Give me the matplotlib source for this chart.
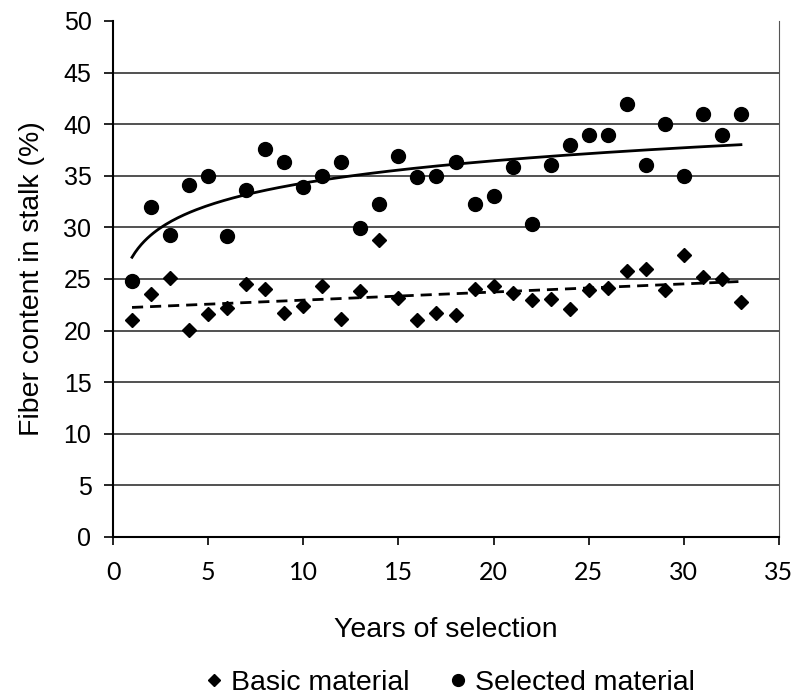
#! /usr/bin/env python3
# Fiber content in stalk over years of selection
import matplotlib
matplotlib.use("Agg")
import matplotlib.pyplot as plt
import numpy as np

years = np.arange(1, 34)

basic = [21.0, 23.5, 25.1, 20.1, 21.6, 22.2, 24.5, 24.0, 21.7, 22.4,
         24.3, 21.1, 23.8, 28.8, 23.2, 21.0, 21.7, 21.5, 24.0, 24.3,
         23.6, 23.0, 23.1, 22.1, 23.9, 24.1, 25.8, 26.0, 23.9, 27.3,
         25.2, 25.0, 22.8]

selected = [24.8, 32.0, 29.3, 34.1, 35.0, 29.2, 33.6, 37.6, 36.3, 33.9,
            35.0, 36.3, 29.9, 32.3, 36.9, 34.9, 35.0, 36.3, 32.3, 33.0,
            35.9, 30.3, 36.0, 38.0, 39.0, 39.0, 42.0, 36.0, 40.0, 35.0,
            41.0, 39.0, 41.0]

yticks = np.arange(0, 51, 5)
xticks = np.arange(0, 36, 5)

plt.rcParams['font.family'] = ['Liberation Sans', 'DejaVu Sans']

fig = plt.figure(figsize=(7.99, 6.99), dpi=100)
ax = fig.add_axes([113/799, 1 - 537/699, 666/799, 516/699])

# trend lines: linear for basic, logarithmic for selected
xs = np.linspace(1, 33, 200)
lin = np.polyfit(years, basic, 1)
ax.plot(xs, np.polyval(lin, xs), color='black', lw=2, ls=(0, (4, 2.5)), zorder=3)
lg = np.polyfit(np.log(years), selected, 1)
ax.plot(xs, np.polyval(lg, np.log(xs)), color='black', lw=2, zorder=3)

ax.plot(years, basic, 'D', color='black', ms=7, ls='none', label='Basic material', zorder=4)
ax.plot(years, selected, 'o', color='black', ms=10, ls='none', label='Selected material', zorder=4)

for y in yticks[1:-1]:
    ax.axhline(y, color='#333333', lw=1.2, zorder=1)

ax.set_xlim(0, 35)
ax.set_ylim(0, 50)
ax.set_xticks(xticks)
ax.set_yticks(yticks)
ax.tick_params(axis='y', labelsize=18, direction='out', length=6.5, width=1.2, pad=9)
ax.tick_params(axis='x', labelsize=18, direction='out', length=6, width=1.2, pad=11)
for lab in ax.get_xticklabels():
    lab.set_family(['Lato', 'Liberation Sans'])
ax.spines['top'].set_visible(False)
ax.spines['right'].set_color('#555555')
ax.spines['left'].set_linewidth(1.5)
ax.spines['bottom'].set_linewidth(1.5)

ax.set_ylabel('Fiber content in stalk (%)', fontsize=20.5)
ax.yaxis.set_label_coords(-0.102, 0.5)
ax.set_xlabel('Years of selection', fontsize=20.5)
ax.xaxis.set_label_coords(0.5, -0.155)

fig.legend(loc='lower center', bbox_to_anchor=(0.564, -0.033), ncol=2, frameon=False,
           handlelength=0.5, handletextpad=0.35, columnspacing=1.45,
           markerscale=0.85, prop={'size': 20.5})

fig.savefig('out.png', dpi=100)
